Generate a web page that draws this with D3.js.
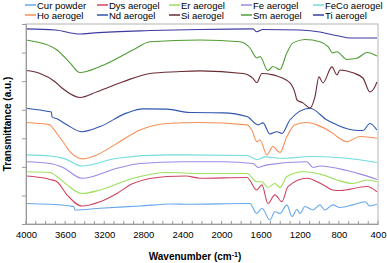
<!DOCTYPE html>
<html>
<head>
<meta charset="utf-8">
<script src="https://cdn.jsdelivr.net/npm/d3@7"></script>
<style>
  body { margin: 0; background: #fff; }
  text { font-family: "Liberation Sans", Arial, sans-serif; }
</style>
</head>
<body>
<script>

// series names, in legend order
const names = ["Cur powder", "Dys aerogel", "Er aerogel", "Fe aerogel", "FeCo aerogel",
               "Ho aerogel", "Nd aerogel", "Si aerogel", "Sm aerogel", "Ti aerogel"];
const colors = ["#66a8ee", "#d0435f", "#9de05c", "#9b8ae6", "#72dcdc",
                "#f78f55", "#2f55b0", "#6b2b35", "#4f9c33", "#3b3ba0"];

// [wavenumber, transmittance (offset, a.u.)]
const cur = [[4000,0.72],[3755,0.69],[3550,0.63],[3510,0.6],[3499,0.49],[3243,0.55],[2834,0.63],[2500,0.70],
  [2364,0.69],[1710,0.72],[1640,0.37],[1587,0.55],[1505,0.14],[1455,0.43],[1403,0.37],[1332,0.67],
  [1280,0.26],[1229,0.51],[1198,0.37],[1147,0.61],[1065,0.49],[994,0.67],[943,0.49],[861,0.67],
  [789,0.58],[656,0.67],[533,0.78],[483,0.63],[411,0.69]];
const dys = [[4000,1.68],[3930,1.66],[3755,1.56],[3683,1.48],[3581,1.02],[3427,0.63],[3243,0.78],[3070,1.07],
  [2906,1.42],[2558,1.66],[2364,1.68],[2221,1.60],[1740,1.63],[1640,1.19],[1587,1.37],[1526,0.72],
  [1455,1.02],[1383,0.78],[1321,1.31],[1127,1.60],[963,1.37],[861,1.19],[789,1.17],[513,1.31],[411,1.13]];
const er = [[4000,1.83],[3755,1.80],[3683,1.66],[3581,1.37],[3427,1.07],[3243,1.19],[2906,1.60],[2558,1.80],
  [2221,1.77],[1740,1.77],[1640,1.48],[1587,1.48],[1526,1.28],[1455,1.42],[1403,1.28],[1332,1.66],
  [1168,1.83],[963,1.72],[820,1.54],[656,1.42],[513,1.54],[411,1.48]];
const fe = [[4000,2.18],[3755,2.12],[3622,1.98],[3427,1.60],[3070,1.95],[2834,2.12],[2400,2.18],[1986,2.18],
  [1679,2.12],[1626,1.98],[1536,2.07],[1127,2.18],[1065,1.98],[994,2.03],[718,1.87],[554,1.72],[411,1.56]];
const feco = [[4000,2.42],[3755,2.38],[3600,2.28],[3427,2.03],[3070,2.30],[2558,2.42],[2364,2.42],[1740,2.40],
  [1640,2.26],[1550,2.35],[1403,2.30],[1065,2.36],[718,2.30],[411,2.15]];
const ho = [[4000,3.55],[3755,3.47],[3724,3.35],[3622,2.88],[3550,2.53],[3427,2.28],[3274,2.42],[3070,2.82],
  [2834,3.29],[2558,3.52],[2221,3.55],[1740,3.47],[1690,3.29],[1640,2.88],[1607,2.94],[1536,2.42],
  [1475,2.71],[1403,2.50],[1332,3.06],[1249,3.47],[1127,3.55],[1025,3.47],[861,3.17],[820,3.06],
  [718,2.88],[585,3.06],[411,3.00]];
const nd = [[4000,4.05],[3755,3.93],[3740,3.92],[3734,3.75],[3683,3.68],[3581,3.47],[3427,3.23],[3243,3.41],
  [2967,3.89],[2803,4.03],[2558,4.02],[2323,3.90],[1986,3.89],[1740,3.76],[1626,3.47],[1577,3.54],
  [1505,3.15],[1434,3.23],[1383,3.17],[1301,3.64],[1096,4.05],[922,3.64],[820,3.47],[656,3.29],
  [554,3.27],[483,3.52],[411,3.29]];
const si = [[4000,5.37],[3857,5.27],[3703,4.98],[3632,4.76],[3448,4.43],[3274,4.63],[3008,4.98],[2732,5.27],
  [2456,5.33],[2220,5.36],[1781,5.27],[1679,5.10],[1640,4.95],[1587,5.27],[1475,5.22],[1434,5.18],
  [1300,4.94],[1249,4.59],[1229,4.34],[1168,4.24],[1096,4.06],[1045,4.45],[1004,5.15],[963,4.94],
  [871,5.50],[820,5.22],[789,5.39],[656,5.29],[554,5.11],[483,4.62],[432,4.80],[411,4.97]];
const sm = [[4000,6.44],[3900,6.38],[3683,6.09],[3550,5.64],[3448,5.30],[3243,5.51],[2906,6.09],[2732,6.38],
  [2220,6.44],[1812,6.38],[1710,6.16],[1640,5.81],[1607,5.86],[1526,5.37],[1475,5.51],[1403,5.41],
  [1332,5.99],[1270,6.34],[1147,6.46],[994,6.38],[912,6.21],[861,5.99],[820,6.03],[718,5.76],
  [616,5.80],[513,6.00],[411,5.88]];
const ti = [[4000,6.83],[3700,6.79],[3448,6.65],[3300,6.69],[2732,6.77],[2221,6.81],[1679,6.83],[1640,6.73],
  [1577,6.81],[1198,6.79],[994,6.72],[900,6.65],[800,6.58],[687,6.51],[410,6.51]];

const seriesData = [cur, dys, er, fe, feco, ho, nd, si, sm, ti];

const xTicks = [4000, 3600, 3200, 2800, 2400, 2000, 1600, 1200, 800, 400];
const yTicks = [0, 1, 2, 3, 4, 5, 6, 7];

const w = 387, h = 263;
const margin = {left: 26, right: 9, top: 24, bottom: 39};

const x = d3.scaleLinear().domain([4000, 400]).range([margin.left, w - margin.right]);
const y = d3.scaleLinear().domain([0, 7]).range([h - margin.bottom, margin.top]);

const svg = d3.select("body").append("svg")
  .attr("width", w).attr("height", h);

// frame
svg.append("rect")
  .attr("x", x(4000)).attr("y", y(7))
  .attr("width", x(400) - x(4000)).attr("height", y(0) - y(7))
  .attr("fill", "none").attr("stroke", "#b4b4b4").attr("stroke-width", 1);

// lines
const line = d3.line()
  .x(d => x(d[0]))
  .y(d => y(d[1]))
  .curve(d3.curveMonotoneX);

svg.selectAll("path.series")
  .data(seriesData)
  .enter()
  .append("path")
  .attr("class", "series")
  .attr("d", line)
  .attr("fill", "none")
  .attr("stroke", (d, i) => colors[i])
  .attr("stroke-width", 1.1);

// x axis: labels every 400, minor ticks every 100, pointing inward
const xAxis = d3.axisBottom(x).tickValues(xTicks).tickSize(0).tickPadding(7)
  .tickFormat(d3.format("d"));
const gx = svg.append("g")
  .attr("transform", "translate(0," + y(0) + ")")
  .call(xAxis);
gx.select(".domain").attr("stroke", "#999");
gx.selectAll("text").attr("font-size", 9.5).attr("fill", "#000")
  .attr("font-family", "Liberation Sans, Arial, sans-serif");

const minor = d3.range(4000, 399, -100);
svg.append("g").selectAll("line")
  .data(minor)
  .enter()
  .append("line")
  .attr("x1", d => x(d)).attr("x2", d => x(d))
  .attr("y1", y(0)).attr("y2", y(0) - 3)
  .attr("stroke", "#999");

// y axis, no labels
const yAxis = d3.axisLeft(y).tickValues(yTicks).tickSize(4).tickFormat("");
const gy = svg.append("g")
  .attr("transform", "translate(" + x(4000) + ",0)")
  .call(yAxis);
gy.select(".domain").attr("stroke", "#999");
gy.selectAll(".tick line").attr("stroke", "#999");

// axis titles
const xt = svg.append("text")
  .attr("x", 195).attr("y", 260)
  .attr("text-anchor", "middle")
  .attr("font-size", 10).attr("font-weight", "bold");
xt.append("tspan").text("Wavenumber (cm");
xt.append("tspan").attr("dy", -3).attr("font-size", 7).text("-1");
xt.append("tspan").attr("dy", 3).text(")");

svg.append("text")
  .attr("transform", "translate(11," + ((y(0) + y(7)) / 2) + ") rotate(-90)")
  .attr("text-anchor", "middle")
  .attr("font-size", 10).attr("font-weight", "bold")
  .text("Transmittance (a.u.)");

// legend, 2 rows x 5 columns
const legend = svg.append("g").selectAll("g")
  .data(names)
  .enter()
  .append("g")
  .attr("transform", (d, i) => "translate(" + (25 + (i % 5) * 72) + "," + (5 + Math.floor(i / 5) * 10) + ")");

legend.append("line")
  .attr("x1", 0).attr("x2", 11)
  .attr("stroke", (d, i) => colors[i])
  .attr("stroke-width", 1.5);

legend.append("text")
  .attr("x", 12).attr("y", 3.5)
  .attr("font-size", 9.5)
  .text(d => d);

</script>
</body>
</html>
